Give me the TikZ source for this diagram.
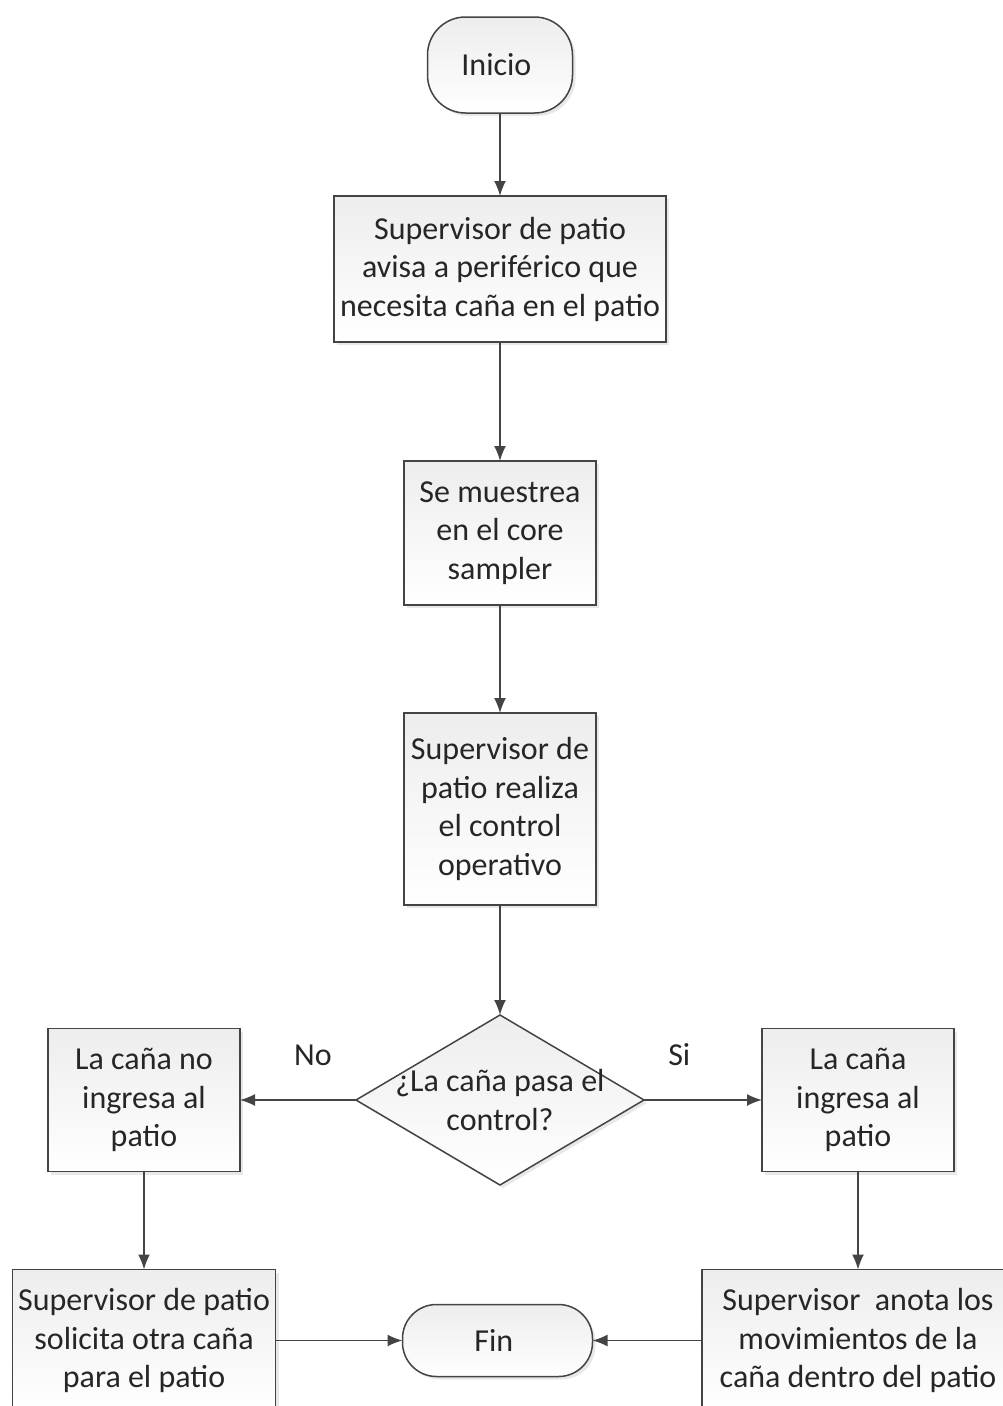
\documentclass[tikz,border=0pt]{standalone}
\usepackage{fontspec}
\setmainfont{Carlito}
\usepackage{tikz}
\usetikzlibrary{positioning, shapes.geometric, arrows.meta, shadows}

\definecolor{edgegray}{HTML}{444444}
\definecolor{textgray}{HTML}{262626}

\begin{document}
\begin{tikzpicture}[x=1pt, y=-1pt,
    every node/.style = { align = center, text = textgray,
      font = \fontsize{32}{38.5}\selectfont },
    filled/.style = { top color = black!7, bottom color = white,
      drop shadow = {opacity=0.18,shadow xshift=3pt,shadow yshift=-3pt} },
    box/.style = { draw = edgegray, line width = 1.5pt, filled, inner sep = 0pt, outer sep = 0pt },
    term/.style = { box, rounded corners = 38pt },
    decide/.style = { draw = edgegray, line width = 1.5pt, filled, shape = diamond,
      inner sep = 0pt, outer sep = 0pt, aspect = 1.69 },
    lbl/.style = { inner sep = 0pt },
    flow/.style = { draw = edgegray, line width = 1.6pt,
      -{Latex[length=15pt,width=12pt]} }]

    \clip (0,0) rectangle (1003,1406);

    \node [term, minimum width = 145pt, minimum height = 96pt] (inicio) at (500,65) { Inicio };
    \node [box, below = 83pt of inicio, minimum width = 332pt, minimum height = 146pt] (aviso)
      { Supervisor de patio \\ avisa a periférico que \\ necesita caña en el patio };
    \node [box, below = 119pt of aviso, minimum width = 192pt, minimum height = 144pt] (muestra)
      { Se muestrea \\ en el core \\ sampler };
    \node [box, below = 108pt of muestra, minimum width = 192pt, minimum height = 192pt] (control)
      { Supervisor de \\ patio realiza \\ el control \\ operativo };
    \node [decide, below = 110pt of control, minimum width = 288pt, minimum height = 170pt,
      label = {[lbl]center:{¿La caña pasa el \\ control?}}] (pasa) {};

    \node [box, left = 116pt of pasa, minimum width = 192pt, minimum height = 143pt] (noingresa)
      { La caña no \\ ingresa al \\ patio };
    \node [box, right = 118pt of pasa, minimum width = 192pt, minimum height = 143pt] (ingresa)
      { La caña \\ ingresa al \\ patio };

    \node [box, below = 98pt of noingresa, minimum width = 263pt, minimum height = 142pt] (solicita)
      { Supervisor de patio \\ solicita otra caña \\ para el patio };
    \node [box, below = 98pt of ingresa, minimum width = 312pt, minimum height = 142pt] (anota)
      { Supervisor~ anota los \\ movimientos de la \\ caña dentro del patio };
    \node [term, right = 127pt of solicita, minimum width = 190pt, minimum height = 72pt,
      rounded corners = 34pt] (fin) { Fin };

    \path [flow] (inicio) -- (aviso);
    \path [flow] (aviso) -- (muestra);
    \path [flow] (muestra) -- (control);
    \path [flow] (control) -- (pasa);
    \path [flow] (pasa.west) -- node [lbl, pos = 0.34, above = 33pt] (no) { No } (pasa.west -| noingresa.east);
    \path [flow] (pasa.east) -- node [lbl, pos = 0.33, above = 33pt] (si) { Si } (pasa.east -| ingresa.west);
    \path [flow] (noingresa) -- (solicita);
    \path [flow] (ingresa) -- (anota);
    \path [flow] (solicita.east |- fin) -- (fin);
    \path [flow] (anota.west |- fin) -- (fin);

\end{tikzpicture}
\end{document}
